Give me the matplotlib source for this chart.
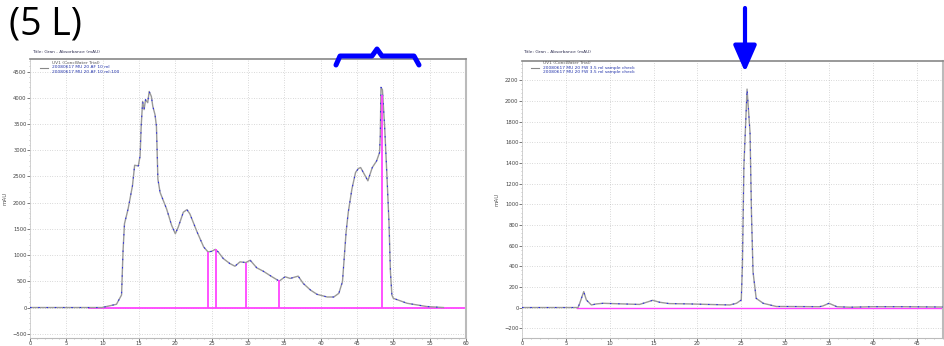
import numpy as np
import matplotlib.pyplot as plt
from matplotlib.lines import Line2D

# Left chromatogram (5 L run): elution time (min) vs absorbance (mAU)
left_time = [0, 9.9, 11.9, 12.6, 12.8, 13.0, 13.5, 14.1, 14.4, 14.9, 15.15, 15.3, 15.5,
             15.7, 15.9, 16.2, 16.4, 16.7, 16.9, 17.2, 17.4, 17.5, 17.6, 17.9, 18.8, 19.5,
             20.0, 20.4, 21.1, 21.6, 22.0, 23.0, 23.9, 24.5, 25.0, 25.5, 25.9, 26.6, 27.5,
             28.2, 28.9, 29.7, 30.3, 31.2, 32.1, 33.3, 34.3, 35.1, 35.8, 36.9, 37.6, 38.6,
             39.5, 40.9, 41.8, 42.5, 43.0, 43.3, 43.5, 43.8, 44.3, 44.8, 45.2, 45.5, 46.0,
             46.5, 47.1, 47.7, 48.1, 48.2, 48.3, 48.5, 48.8, 49.1, 49.4, 49.6, 49.8, 50.0,
             51.9, 54.6, 56.9]
left_abs = [0, 0, 62, 240, 1066, 1597, 1880, 2322, 2714, 2700, 2890, 3458, 3932,
            3775, 3964, 3907, 4121, 4027, 3837, 3680, 3458, 2955, 2449, 2197, 1880, 1564,
            1407, 1534, 1818, 1867, 1786, 1439, 1155, 1060, 1072, 1110, 1060, 934, 839,
            788, 871, 858, 902, 758, 693, 587, 504, 587, 555, 599, 460, 333,
            252, 201, 201, 271, 492, 1060, 1439, 1818, 2260, 2576, 2652, 2670, 2544,
            2417, 2670, 2796, 2955, 3269, 4200, 4153, 3458, 2576, 1629, 682, 239, 176,
            81, 19, 0]
# fraction marks (magenta)
left_frac_time = [24.5, 25.6, 29.7, 34.3, 48.5]
left_frac_abs = [1066, 1123, 858, 523, 4059]
left_frac_start = 8.1

# Right chromatogram: sample check
right_time = [0, 6.39, 6.58, 7.04, 7.34, 7.91, 8.48, 9.24, 11.5, 13.4, 14.2, 14.9, 15.7,
              16.8, 19.1, 21.2, 23.7, 24.45, 25.0, 25.13, 25.3, 25.66, 26.0, 26.16, 26.34,
              26.7, 27.5, 29.0, 29.8, 33.9, 34.3, 35.0, 35.9, 37.4, 40.0, 43.4, 48.0]
right_abs = [0, 0, 41, 154, 73, 25, 35, 41, 35, 30, 51, 70, 51,
             38, 35, 30, 25, 41, 73, 410, 1371, 2115, 1692, 923, 346,
             89, 41, 10, 10, 8, 15, 41, 8, 3, 8, 8, 5]
right_frac_start = 6.3

left_yticks = np.arange(-500, 4501, 500)
right_yticks = np.arange(-200, 2201, 200)

W, H = 945, 346
fig = plt.figure(figsize=(W / 100, H / 100), dpi=100)


def px(x0, y0, x1, y1):
    return [x0 / W, 1 - y1 / H, (x1 - x0) / W, (y1 - y0) / H]


def style_axes(ax, xlim, ylim, xticks, yticks, yminor):
    ax.set_xlim(*xlim)
    ax.set_ylim(*ylim)
    ax.set_xticks(xticks)
    ax.set_yticks(yticks)
    ax.set_xticks(np.arange(xlim[0], xlim[1] + 0.01, 1), minor=True)
    ax.set_yticks(np.arange(yticks[0], ylim[1], yminor), minor=True)
    ax.tick_params(labelsize=3.8, length=2, width=0.5, colors='#444444', pad=0.5)
    ax.tick_params(which='minor', length=1, width=0.4, colors='#999999')
    ax.grid(True, color='#b5b5b5', lw=0.5, linestyle=(0, (1, 2.5)))
    ax.set_axisbelow(True)
    ax.spines['top'].set_color('#888888')
    ax.spines['top'].set_linewidth(1.2)
    ax.spines['right'].set_color('#bbbbbb')
    ax.spines['right'].set_linewidth(1.5)
    ax.spines['left'].set_color('#cccccc')
    ax.spines['left'].set_linewidth(0.6)
    ax.spines['bottom'].set_color('#bbbbbb')
    ax.spines['bottom'].set_linewidth(0.8)
    ax.set_ylabel('mAU', fontsize=4, labelpad=3, color='#555555')


def draw_trace(ax, t, a):
    ax.plot(t, a, color='#999999', lw=1.0, zorder=3)
    ax.plot(t, a, color='#2222ee', lw=0.7, linestyle=(0, (1.5, 7)), zorder=4)


# ---- left panel
ax1 = fig.add_axes(px(30, 59, 466, 338))
style_axes(ax1, (0, 60), (-581, 4740), np.arange(0, 61, 5), left_yticks, 100)
ax1.plot([left_frac_start, 60], [0, 0], color='#ff44ff', lw=1.3, zorder=2)
draw_trace(ax1, left_time, left_abs)
ax1.vlines(left_frac_time, 0, left_frac_abs, color='#ff44ff', lw=1.3, zorder=5)

# ---- right panel
ax2 = fig.add_axes(px(522, 61, 943, 338))
style_axes(ax2, (0, 48), (-295, 2387), np.arange(0, 46, 5), right_yticks, 40)
ax2.plot([right_frac_start, 48], [0, 0], color='#ff44ff', lw=1.0, zorder=2)
draw_trace(ax2, right_time, right_abs)

# small header and legend text
for ax, x0, legend in [
    (ax1, 32, ['UV1 (ConcWater Trial)', '20080617 MU 20 AF 10 ml', '20080617 MU 20 AF 10 ml:100']),
    (ax2, 523, ['UV1 (ConcWater Trial)', '20080617 MU 20 FW 3.5 ml sample check',
                '20080617 MU 20 FW 3.5 ml sample check']),
]:
    fig.text(x0 / W, 1 - 52 / H, 'Title: Gran - Absorbance (mAU)', fontsize=3.2,
             color='#333355', va='center')
    for i, s in enumerate(legend):
        fig.text((x0 + 20) / W, 1 - (63 + i * 4.5) / H, s, fontsize=3.2,
                 color='#555555' if i == 0 else '#2233aa', va='center')
    fig.add_artist(Line2D([(x0 + 8) / W, (x0 + 16) / W], [1 - 67.5 / H] * 2,
                          color='#888888', lw=0.8))

# panel label
fig.text(9 / W, 1 - 24 / H, '(5 L)', fontsize=27, family='Open Sans', va='center')

# blue brace over the left peak group
bx = [336, 340, 372, 377, 382, 414, 419]
by = [65, 56, 56, 49, 56, 56, 65]
fig.add_artist(Line2D([x / W for x in bx], [1 - y / H for y in by], color='#0000ff',
                      lw=3.6, solid_capstyle='round', solid_joinstyle='round'))

# blue arrow over the right peak
fig.add_artist(plt.Annotation('', xy=(745 / W, 1 - 72 / H), xytext=(745 / W, 1 - 8 / H),
                              xycoords='figure fraction', textcoords='figure fraction',
                              arrowprops=dict(arrowstyle='-|>,head_length=1.6,head_width=0.7',
                                              color='#0000ff', lw=3, shrinkA=0, shrinkB=0)))

fig.savefig('out.png', dpi=100)
